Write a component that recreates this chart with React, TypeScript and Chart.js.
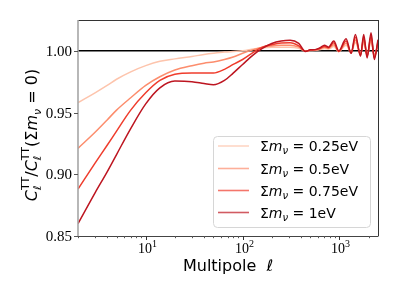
import React, { useEffect, useRef } from "react";
import { Chart, registerables } from "chart.js";

Chart.register(...registerables);

// ---- data ----
const multipoles = [2, 3, 4, 5, 7, 10, 14, 20, 30, 40, 50, 65, 80, 100, 130, 160, 200, 250, 310, 380, 445, 500, 560, 630, 700, 770, 874, 985, 1170, 1320, 1460, 1650, 1780, 1930, 2120, 2290, 2500];

const ratio025 = [0.958, 0.966, 0.972, 0.977, 0.983, 0.988, 0.9915, 0.9935, 0.9955, 0.997, 0.998, 0.999, 0.9995, 1.0, 1.0015, 1.0025, 1.003, 1.003, 1.003, 1.002, 0.9998, 1.0002, 1.0004, 1.001, 1.002, 1.0015, 1.0035, 0.9995, 1.0045, 0.999, 1.0065, 0.998, 1.0065, 0.9975, 1.007, 0.997, 1.0045];
const ratio050 = [0.921, 0.934, 0.944, 0.952, 0.962, 0.972, 0.979, 0.9845, 0.988, 0.99, 0.991, 0.993, 0.995, 0.998, 1.001, 1.003, 1.004, 1.0045, 1.0046, 1.003, 0.9998, 1.0004, 1.0006, 1.0015, 1.003, 1.002, 1.005, 0.9995, 1.0062, 0.9985, 1.0088, 0.997, 1.0088, 0.9965, 1.0095, 0.9958, 1.006];
const ratio075 = [0.888, 0.909, 0.9235, 0.935, 0.952, 0.966, 0.976, 0.981, 0.982, 0.982, 0.982, 0.985, 0.989, 0.993, 0.999, 1.003, 1.005, 1.0063, 1.0065, 1.004, 0.9997, 1.0006, 1.0008, 1.002, 1.0035, 1.0025, 1.0065, 0.9995, 1.008, 0.998, 1.011, 0.9965, 1.011, 0.9955, 1.012, 0.9945, 1.0075];
const ratio100 = [0.86, 0.885, 0.902, 0.916, 0.937, 0.957, 0.97, 0.9755, 0.975, 0.9735, 0.9725, 0.976, 0.982, 0.989, 0.997, 1.002, 1.006, 1.008, 1.0086, 1.006, 0.9995, 1.0008, 1.001, 1.0025, 1.0045, 1.003, 1.008, 1.0, 1.0098, 0.998, 1.0133, 0.9957, 1.0133, 0.9943, 1.0146, 0.993, 1.009];

const seriesLabels = ["0.25", "0.5", "0.75", "1"];
const seriesColors = ["#fdc4ac", "#fc8d6d", "#ef3c2c", "#bd1520"];
const seriesValues = [ratio025, ratio050, ratio075, ratio100];

const yTicks = [0.85, 0.9, 0.95, 1.0];
const yTickLabels = ["0.85", "0.90", "0.95", "1.00"];
const xMajorTicks = [10, 100, 1000];
const xMajorExponents = ["1", "2", "3"];
const xMinorTicks = [2, 3, 4, 5, 6, 7, 8, 9, 20, 30, 40, 50, 60, 70, 80, 90, 200, 300, 400, 500, 600, 700, 800, 900, 2000];
const referenceLevel = 1.0;

const X_MIN = 2;
const X_MAX = 2500;
const Y_MIN = 0.85;
const Y_MAX = 1.025;

type Run = { t?: string; font?: string; dy?: number; sub?: Run; sup?: Run };

function runWidth(ctx: CanvasRenderingContext2D, r: Run): number {
  if (r.sub || r.sup) {
    let w = 0;
    if (r.sub) { ctx.font = r.sub.font!; w = Math.max(w, ctx.measureText(r.sub.t!).width); }
    if (r.sup) { ctx.font = r.sup.font!; w = Math.max(w, ctx.measureText(r.sup.t!).width); }
    return w;
  }
  ctx.font = r.font!;
  return ctx.measureText(r.t!).width;
}

function drawRuns(ctx: CanvasRenderingContext2D, x: number, y: number, runs: Run[], align: "left" | "center") {
  const total = runs.reduce((s, r) => s + runWidth(ctx, r), 0);
  let cx = align === "center" ? x - total / 2 : x;
  ctx.textAlign = "left";
  ctx.textBaseline = "alphabetic";
  for (const r of runs) {
    const w = runWidth(ctx, r);
    if (r.sub || r.sup) {
      if (r.sub) { ctx.font = r.sub.font!; ctx.fillText(r.sub.t!, cx, y + (r.sub.dy || 0)); }
      if (r.sup) { ctx.font = r.sup.font!; ctx.fillText(r.sup.t!, cx, y + (r.sup.dy || 0)); }
    } else {
      ctx.font = r.font!;
      ctx.fillText(r.t!, cx, y + (r.dy || 0));
    }
    cx += w;
  }
  return total;
}

const SANS = "'DejaVu Sans'";
const SERIF = "'Liberation Serif'";

const decorPlugin = {
  id: "decor",
  beforeDatasetsDraw(chart: any) {
    const ctx = chart.ctx as CanvasRenderingContext2D;
    const { left, right } = chart.chartArea;
    const y = chart.scales.y.getPixelForValue(referenceLevel);
    ctx.save();
    ctx.strokeStyle = "#000";
    ctx.lineWidth = 1.5;
    ctx.beginPath();
    ctx.moveTo(left, y);
    ctx.lineTo(right, y);
    ctx.stroke();
    ctx.restore();
  },
  afterDatasetsDraw(chart: any) {
    const ctx = chart.ctx as CanvasRenderingContext2D;
    const { left, right, top, bottom } = chart.chartArea;
    const xs = chart.scales.x;
    const ys = chart.scales.y;
    ctx.save();
    // spines
    ctx.lineWidth = 1;
    ctx.strokeStyle = "#333";
    ctx.beginPath();
    ctx.moveTo(left, top + 0.5); ctx.lineTo(right + 0.5, top + 0.5);
    ctx.moveTo(right + 0.5, top); ctx.lineTo(right + 0.5, bottom);
    ctx.stroke();
    ctx.strokeStyle = "#444";
    ctx.beginPath();
    ctx.moveTo(left, bottom + 0.5); ctx.lineTo(right + 0.5, bottom + 0.5);
    ctx.stroke();
    ctx.strokeStyle = "#a6a6a6";
    ctx.lineWidth = 1.6;
    ctx.beginPath();
    ctx.moveTo(left, top); ctx.lineTo(left, bottom + 1);
    ctx.stroke();

    // y ticks
    ctx.lineWidth = 1;
    ctx.strokeStyle = "#555";
    ctx.fillStyle = "#000";
    yTicks.forEach((v, i) => {
      const py = Math.round(ys.getPixelForValue(v)) + 0.5;
      ctx.beginPath();
      ctx.moveTo(left - 4, py); ctx.lineTo(left, py);
      ctx.stroke();
      ctx.font = `15px ${SERIF}`;
      ctx.textAlign = "right";
      ctx.textBaseline = "middle";
      ctx.fillText(yTickLabels[i], left - 6, py + 0.5);
    });

    // x ticks
    ctx.strokeStyle = "#333";
    xMajorTicks.forEach((v, i) => {
      const px = Math.round(xs.getPixelForValue(v)) + 0.5;
      ctx.beginPath();
      ctx.moveTo(px, bottom); ctx.lineTo(px, bottom + 4);
      ctx.stroke();
      const runs: Run[] = [
        { t: "10", font: `14px ${SERIF}` },
        { t: xMajorExponents[i], font: `10px ${SERIF}`, dy: -6 },
      ];
      ctx.fillStyle = "#000";
      drawRuns(ctx, px + 1, bottom + 17, runs, "center");
    });
    ctx.strokeStyle = "#555";
    xMinorTicks.forEach((v) => {
      const px = Math.round(xs.getPixelForValue(v)) + 0.5;
      ctx.beginPath();
      ctx.moveTo(px, bottom); ctx.lineTo(px, bottom + 2.2);
      ctx.stroke();
    });

    // x title
    ctx.fillStyle = "#000";
    drawRuns(ctx, (left + right) / 2, 271, [
      { t: "Multipole  ", font: `16px ${SANS}` },
      { t: "ℓ", font: `italic 16px ${SANS}` },
    ], "center");

    // y title
    ctx.save();
    ctx.translate(37, 135);
    ctx.rotate(-Math.PI / 2);
    const it = `italic 16px ${SANS}`;
    const rm = `16px ${SANS}`;
    const subIt = `italic 11px ${SANS}`;
    const supRm = `11px ${SANS}`;
    drawRuns(ctx, 0, 0, [
      { t: "C", font: it },
      { sub: { t: "ℓ", font: subIt, dy: 4 }, sup: { t: "TT", font: supRm, dy: -8 } },
      { t: "/", font: rm },
      { t: "C", font: it },
      { sub: { t: "ℓ", font: subIt, dy: 4 }, sup: { t: "TT", font: supRm, dy: -8 } },
      { t: "(Σ", font: rm },
      { t: "m", font: it },
      { t: "ν", font: subIt, dy: 4 },
      { t: " = 0)", font: rm },
    ], "center");
    ctx.restore();

    // legend
    const lx = 213.5, ly = 136.5, lw = 157, lh = 91;
    ctx.beginPath();
    (ctx as any).roundRect(lx, ly, lw, lh, 4);
    ctx.fillStyle = "rgba(255,255,255,0.85)";
    ctx.fill();
    ctx.strokeStyle = "#d6d6d6";
    ctx.lineWidth = 1;
    ctx.stroke();
    const rowY = [146, 168.5, 190.5, 212.5];
    seriesLabels.forEach((lab, i) => {
      const y = rowY[i];
      ctx.save();
      ctx.globalAlpha = 0.7;
      ctx.strokeStyle = seriesColors[i];
      ctx.lineWidth = 1.6;
      ctx.beginPath();
      ctx.moveTo(218, y); ctx.lineTo(249, y);
      ctx.stroke();
      ctx.restore();
      ctx.fillStyle = "#000";
      drawRuns(ctx, 260, y + 5, [
        { t: "Σ", font: `14px ${SANS}` },
        { t: "m", font: `italic 14px ${SANS}` },
        { t: "ν", font: `italic 10px ${SANS}`, dy: 3 },
        { t: " = ", font: `14px ${SANS}` },
        { t: lab, font: `14px ${SANS}` },
        { t: "eV", font: `14px ${SANS}` },
      ], "left");
    });
    ctx.restore();
  },
};

export default function App() {
  const ref = useRef<HTMLCanvasElement | null>(null);
  useEffect(() => {
    if (!ref.current) return;
    const order = [3, 2, 1, 0];
    const chart = new Chart(ref.current, {
      type: "line",
      data: {
        datasets: seriesValues.map((vals, i) => ({
          label: seriesLabels[i],
          data: multipoles.map((l, j) => ({ x: l, y: vals[j] })),
          borderColor: seriesColors[i],
          borderWidth: 1.5,
          pointRadius: 0,
          fill: false,
          cubicInterpolationMode: "monotone" as const,
          order: order[i],
        })),
      },
      options: {
        responsive: false,
        animation: false,
        layout: { padding: { left: 78, right: 21, top: 20, bottom: 63 } },
        scales: {
          x: { type: "logarithmic", min: X_MIN, max: X_MAX, display: false },
          y: { type: "linear", min: Y_MIN, max: Y_MAX, display: false },
        },
        plugins: { legend: { display: false }, tooltip: { enabled: false } },
      },
      plugins: [decorPlugin],
    });
    return () => chart.destroy();
  }, []);
  return (
    <div style={{ position: "fixed", left: 0, top: 0, width: 399, height: 299, background: "#fff" }}>
      <canvas ref={ref} width={399} height={299} style={{ display: "block" }} />
    </div>
  );
}
